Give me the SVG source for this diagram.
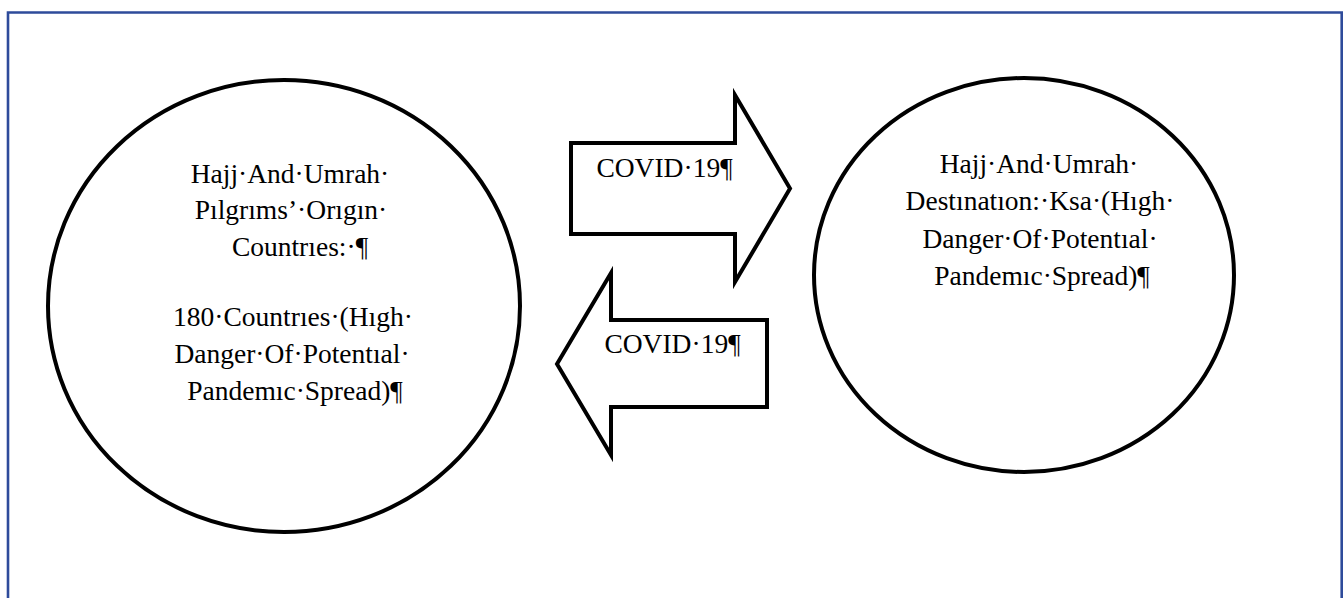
<svg xmlns="http://www.w3.org/2000/svg" width="1343" height="598" viewBox="0 0 1343 598">
<style>
.frame{fill:none;stroke:#2E4B9B;stroke-width:2.6}
.shape{fill:#fff;stroke:#000;stroke-width:4;stroke-linejoin:miter}
.t{font-family:'Liberation Serif','DejaVu Serif',serif;font-size:27.5px;fill:#000;text-anchor:middle}
</style>
<rect width="1343" height="598" fill="#fff"/>
<path class="frame" d="M8,600 V12.5 H1341.7 V600"/>
<g id="origin">
<ellipse class="shape" cx="284" cy="306" rx="236" ry="226"/>
<text class="t" x="290" y="183" font-family="Liberation Serif, DejaVu Serif, serif">Hajj·And·Umrah·</text>
<text class="t" x="291" y="219" font-family="Liberation Serif, DejaVu Serif, serif">Pılgrıms’·Orıgın·</text>
<text class="t" x="300" y="256" font-family="Liberation Serif, DejaVu Serif, serif">Countrıes:·¶</text>
<text class="t" x="293" y="326" font-family="Liberation Serif, DejaVu Serif, serif">180·Countrıes·(Hıgh·</text>
<text class="t" x="292" y="363" font-family="Liberation Serif, DejaVu Serif, serif">Danger·Of·Potentıal·</text>
<text class="t" x="295" y="400" font-family="Liberation Serif, DejaVu Serif, serif">Pandemıc·Spread)¶</text>
</g>
<g id="destination">
<ellipse class="shape" cx="1024" cy="275" rx="210" ry="197"/>
<text class="t" x="1039" y="173" font-family="Liberation Serif, DejaVu Serif, serif">Hajj·And·Umrah·</text>
<text class="t" x="1040" y="210" font-family="Liberation Serif, DejaVu Serif, serif">Destınatıon:·Ksa·(Hıgh·</text>
<text class="t" x="1040" y="248" font-family="Liberation Serif, DejaVu Serif, serif">Danger·Of·Potentıal·</text>
<text class="t" x="1042" y="285" font-family="Liberation Serif, DejaVu Serif, serif">Pandemıc·Spread)¶</text>
</g>
<g id="connectors">
<g id="arrow-right">
<path class="shape" d="M571,143 H735 V95 L790,188.5 L735,282 V234 H571 Z"/>
<text class="t" x="664.5" y="177" font-family="Liberation Serif, DejaVu Serif, serif">COVID·19¶</text>
</g>
<g id="arrow-left">
<path class="shape" d="M767,320 H611 V273 L557,364 L611,455 V407 H767 Z"/>
<text class="t" x="672.5" y="353" font-family="Liberation Serif, DejaVu Serif, serif">COVID·19¶</text>
</g>
</g>
</svg>
